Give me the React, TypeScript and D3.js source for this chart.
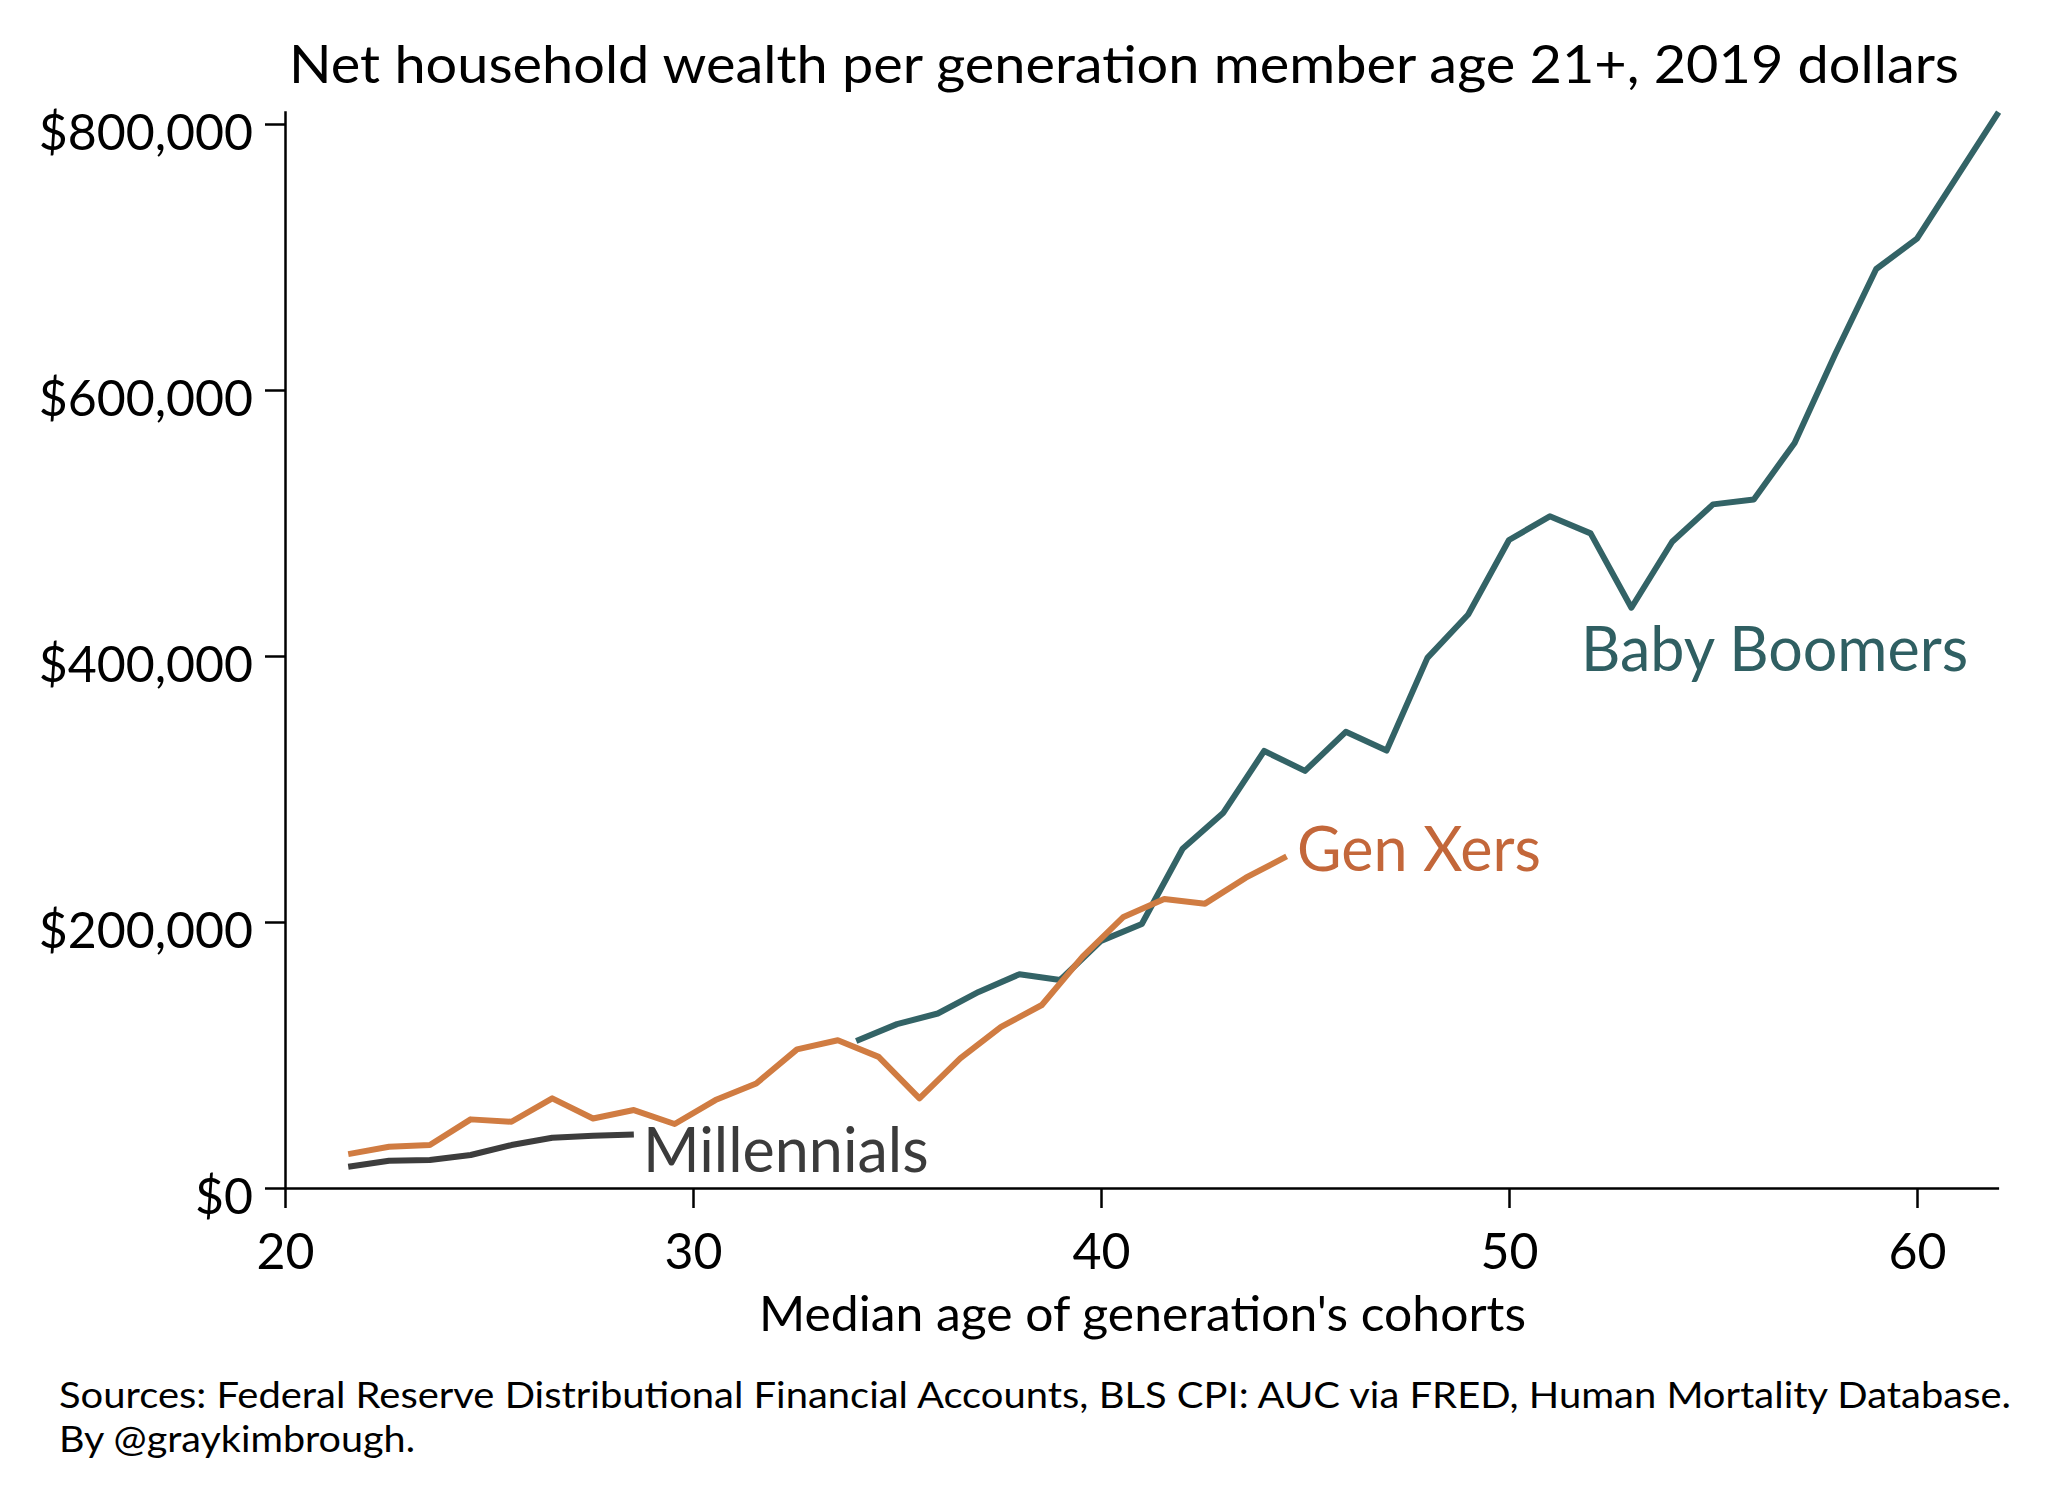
import { useEffect, useRef } from "react";
import * as d3 from "d3";

const W = 2052;
const H = 1492;

const titleText = "Net household wealth per generation member age 21+, 2019 dollars";
const xAxisTitle = "Median age of generation's cohorts";
const sourceLines = [
  "Sources: Federal Reserve Distributional Financial Accounts, BLS CPI: AUC via FRED, Human Mortality Database.",
  "By @graykimbrough.",
];
const sourceWidths = [1952, 356];

const xTicks = [20, 30, 40, 50, 60];
const yTicks = [0, 200000, 400000, 600000, 800000];

const millennialAges = [21.55, 22.55, 23.55, 24.55, 25.55, 26.55, 27.55, 28.55];
const millennialWealth = [16000, 20500, 21000, 24800, 32300, 37800, 39300, 40300];

const genXAges = [
  21.55, 22.55, 23.55, 24.55, 25.55, 26.55, 27.55, 28.55, 29.55, 30.55, 31.55, 32.55,
  33.55, 34.55, 35.55, 36.55, 37.55, 38.55, 39.55, 40.55, 41.55, 42.55, 43.55, 44.55,
];
const genXWealth = [
  25500, 31000, 32300, 51600, 49800, 67400, 52300, 58600, 48100, 66100, 78600, 104200,
  111100, 98600, 67400, 97400, 121100, 137600, 174000, 203800, 217300, 213800, 233300, 249300,
];

const boomerAges = [
  34, 35, 36, 37, 38, 39, 40, 41, 42, 43, 44, 45, 46, 47, 48, 49, 50, 51, 52, 53, 54, 55,
  56, 57, 58, 59, 60, 61, 62,
];
const boomerWealth = [
  110600, 123200, 131200, 147400, 160700, 156400, 185800, 198500, 255100, 282200, 328600,
  313600, 343000, 328900, 398600, 431200, 487200, 505000, 492200, 436300, 485900, 514000,
  517700, 560200, 627300, 691000, 713800, 761400, 809000,
];

const series = [
  { name: "Baby Boomers", ages: boomerAges, values: boomerWealth, line: "#336366", text: "#2f5f62", lx: 1581, ly: 671 },
  { name: "Gen Xers", ages: genXAges, values: genXWealth, line: "#d07c42", text: "#c3673a", lx: 1297, ly: 871 },
  { name: "Millennials", ages: millennialAges, values: millennialWealth, line: "#3d3d3d", text: "#3b3b3b", lx: 643, ly: 1172 },
];

const FONT = "Lato, 'Noto Sans', sans-serif";

export default function App() {
  const svgRef = useRef<SVGSVGElement>(null);

  useEffect(() => {
    const svg = d3.select(svgRef.current);
    svg.selectAll("*").remove();

    const x = d3.scaleLinear().domain([20, 62]).range([285, 1998.6]);
    const y = d3.scaleLinear().domain([0, 810000]).range([1188, 1188 - (810000 * 266) / 200000]);

    svg.append("rect").attr("width", W).attr("height", H).attr("fill", "#fff");

    // title
    svg.append("text")
      .attr("x", 289)
      .attr("y", 83)
      .attr("textLength", 1670)
      .attr("lengthAdjust", "spacingAndGlyphs")
      .style("font-family", FONT)
      .style("font-size", "53px")
      .style("fill", "#000")
      .text(titleText);

    // y axis
    const yAxis = svg.append("g")
      .attr("transform", "translate(285,0)")
      .call(
        d3.axisLeft(y)
          .tickValues(yTicks)
          .tickSize(20)
          .tickSizeOuter(0)
          .tickPadding(12)
          .tickFormat(d => "$" + d3.format(",")(d as number))
      );
    yAxis.selectAll("path, line").attr("stroke", "#000").attr("stroke-width", 2.5);
    yAxis.selectAll("text")
      .attr("dy", "0.5em")
      .style("font-family", FONT)
      .style("font-size", "50px")
      .attr("fill", "#000");

    // x axis
    const xAxis = svg.append("g")
      .attr("transform", "translate(0,1188)")
      .call(d3.axisBottom(x).tickValues(xTicks).tickSize(20).tickSizeOuter(0).tickPadding(25));
    xAxis.selectAll("path, line").attr("stroke", "#000").attr("stroke-width", 2.5);
    xAxis.selectAll("text")
      .style("font-family", FONT)
      .style("font-size", "50px")
      .attr("fill", "#000");

    svg.append("text")
      .attr("x", 1142.5)
      .attr("y", 1331)
      .attr("text-anchor", "middle")
      .attr("textLength", 767)
      .attr("lengthAdjust", "spacingAndGlyphs")
      .style("font-family", FONT)
      .style("font-size", "48px")
      .style("fill", "#000")
      .text(xAxisTitle);

    // lines
    const line = d3.line<[number, number]>()
      .x(d => x(d[0]))
      .y(d => y(d[1]));

    series.forEach(s => {
      const pts: [number, number][] = s.ages.map((a, i) => [a, s.values[i]]);
      svg.append("path")
        .datum(pts)
        .attr("d", line)
        .attr("fill", "none")
        .attr("stroke", s.line)
        .attr("stroke-width", 6)
        .attr("stroke-linejoin", "round");
    });

    series.forEach(s => {
      svg.append("text")
        .attr("x", s.lx)
        .attr("y", s.ly)
        .style("font-family", FONT)
        .style("font-size", "61px")
        .style("fill", s.text)
        .text(s.name);
    });

    // sources
    sourceLines.forEach((t, i) => {
      svg.append("text")
        .attr("x", 59)
        .attr("y", 1408 + i * 43.5)
        .attr("textLength", sourceWidths[i])
        .attr("lengthAdjust", "spacingAndGlyphs")
        .style("font-family", FONT)
        .style("font-size", "36px")
        .style("fill", "#000")
        .text(t);
    });
  }, []);

  return (
    <div style={{ position: "absolute", left: 0, top: 0 }}>
      <svg ref={svgRef} width={W} height={H} style={{ display: "block" }} />
    </div>
  );
}
